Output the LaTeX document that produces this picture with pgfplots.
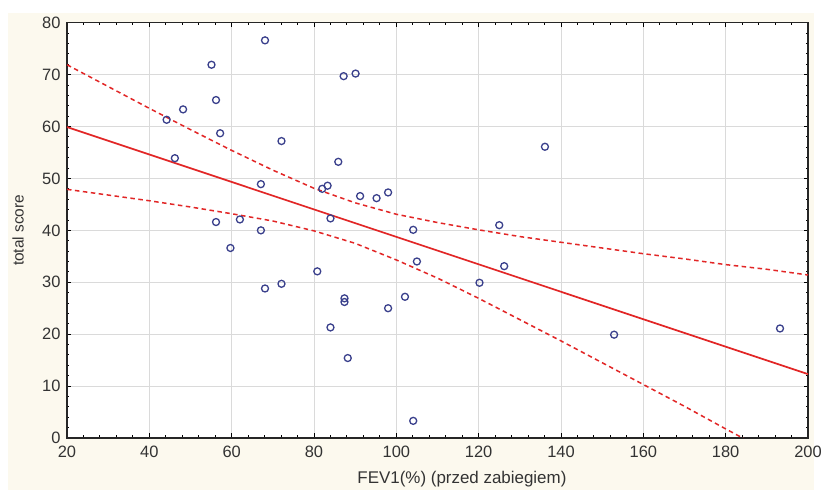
\documentclass[border=0pt]{standalone}
\usepackage{fontspec}
\setmainfont{Liberation Sans}
\usepackage{pgfplots}
\pgfplotsset{compat=1.18}
\usetikzlibrary{calc,backgrounds}
\definecolor{cream}{RGB}{252,249,238}
\definecolor{markblue}{RGB}{58,64,140}
\definecolor{regred}{RGB}{226,38,38}
\definecolor{gridgray}{RGB}{218,218,218}
\begin{document}
\begin{tikzpicture}
\begin{axis}[
  name=ax,
  scale only axis,
  width=741bp, height=415.3bp,
  xmin=20, xmax=200, ymin=0, ymax=80,
  xtick={20,40,...,200}, ytick={0,10,...,80},
  minor x tick num=4, minor y tick num=4,
  tick align=inside,
  major tick length=4.5bp, minor tick length=2.5bp,
  tick style={black, line width=0.9bp},
  grid=major,
  major grid style={gridgray, line width=0.6bp},
  axis line style={black!85, line width=1.5bp},
  axis background/.style={fill=white},
  clip=true,
  tick label style={font=\fontsize{16.5}{19}\selectfont, black!80},
  /pgf/number format/assume math mode=true,
  xticklabel style={yshift=-5bp},
  yticklabel style={xshift=-3bp},
  xlabel={FEV1(\%) (przed zabiegiem)},
  ylabel={total score},
  xlabel style={at={(axis description cs:0.533,-0.0987)}, anchor=center, font=\fontsize{17}{20}\selectfont, black!80},
  ylabel style={at={(axis description cs:-0.066,0.5)}, anchor=center, font=\fontsize{15.5}{18}\selectfont, black!80},
]
% upper confidence band
\addplot[regred, line width=1.5bp, dash pattern=on 4.5bp off 3.5bp] coordinates {
(20,71.9) (30,67.7) (40,63.5) (50,59.4) (60,55.4) (70,51.6) (80,48.1) (90,45.3)
(100,43.1) (110,41.5) (120,40.1) (130,38.8) (140,37.7) (150,36.6) (160,35.5)
(170,34.5) (180,33.4) (190,32.5) (200,31.4)};
% lower confidence band
\addplot[regred, line width=1.5bp, dash pattern=on 4.5bp off 3.5bp] coordinates {
(20,47.9) (30,46.8) (40,45.7) (50,44.5) (60,43.2) (70,41.8) (80,39.9) (90,37.5)
(100,34.3) (110,30.8) (120,26.9) (130,22.8) (140,18.7) (150,14.5) (160,10.3)
(170,6.1) (180,1.75) (190,-2.5) (200,-6.8)};
% regression line
\addplot[regred, line width=1.7bp] coordinates {(20,59.9) (200,12.3)};
% data points
\addplot[only marks, mark=o, mark size=3.5bp, mark options={markblue, line width=1.3bp}] coordinates {
(44.2,61.3) (46.2,53.9) (48.2,63.3) (55.1,71.9) (56.2,65.1) (57.2,58.7)
(56.2,41.6) (62.0,42.1) (67.1,48.9) (67.1,40.0) (68.1,76.6) (72.1,57.2)
(82.0,48.0) (83.3,48.6) (84.0,42.3) (85.9,53.2) (87.2,69.7) (90.1,70.2)
(91.2,46.6) (95.2,46.2) (98.0,47.3) (104.1,40.1) (59.7,36.6) (68.1,28.8)
(72.1,29.7) (80.8,32.1) (87.4,26.9) (87.4,26.2) (84.0,21.3) (88.2,15.4)
(98.0,25.0) (102.1,27.2) (104.1,3.3) (105.0,34.0) (120.2,29.9) (126.2,33.1)
(152.9,19.9) (193.2,21.1) (136.1,56.1) (125.0,41.0)};
\end{axis}
\begin{pgfonlayer}{background}
\fill[white] ($(ax.south west)+(-67bp,-52bp)$) rectangle ($(ax.north east)+(16bp,22.7bp)$);
\fill[cream] ($(ax.south west)+(-59bp,-52bp)$) rectangle ($(ax.north east)+(6bp,9.7bp)$);
\end{pgfonlayer}
\pgfresetboundingbox
\path ($(ax.south west)+(-67bp,-52bp)$) rectangle ($(ax.north east)+(16bp,22.7bp)$);
\end{tikzpicture}
\end{document}
